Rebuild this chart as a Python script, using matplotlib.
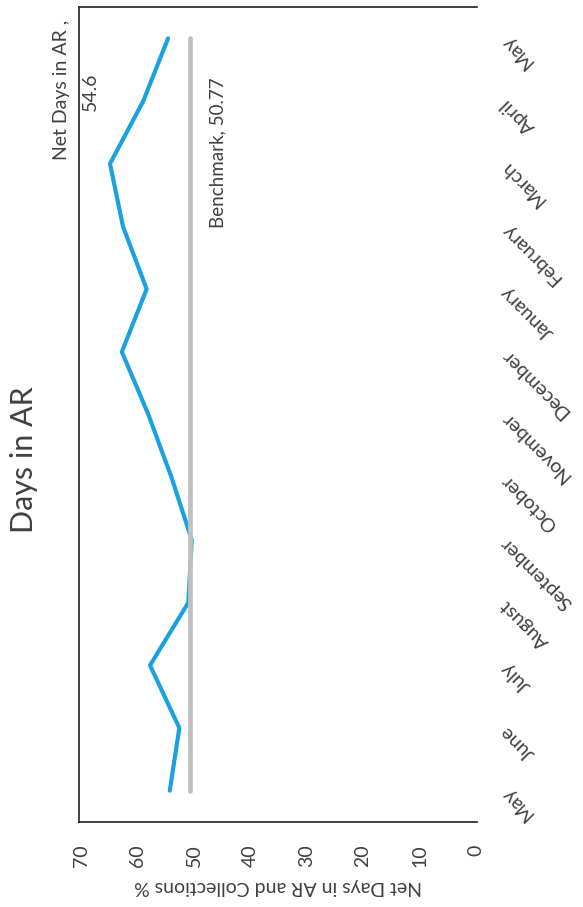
import matplotlib
matplotlib.use("Agg")
import matplotlib.pyplot as plt

plt.rcParams['font.family'] = ['Lato', 'DejaVu Sans']

months = ["May", "June", "July", "August", "September", "October", "November",
          "December", "January", "February", "March", "April", "May"]
net_days = [54.3, 52.6, 57.8, 51.0, 50.4, 54.0, 58.1, 62.8, 58.4, 62.6, 64.9, 59.0, 54.6]
benchmark = [50.77] * len(months)
value_ticks = [0, 10, 20, 30, 40, 50, 60, 70]

W, H = 583, 907
fig = plt.figure(figsize=(W / 100, H / 100), dpi=100)
ax = fig.add_axes([79 / W, 1 - 822 / H, (477 - 79) / W, (822 - 7) / H])

pos = list(range(len(months)))
ax.plot(net_days, pos, color='#1ba1e2', lw=3.0, solid_capstyle='round', zorder=2)
ax.plot(benchmark, pos, color='#c0c0c0', lw=3.4, solid_capstyle='round', zorder=3)

ax.set_xlim(70.4, -0.2)
ax.set_ylim(-0.5, len(months) - 0.5)

ax.set_xticks(value_ticks)
ax.set_xticklabels([str(v) for v in value_ticks], rotation=90, fontsize=14, color='#404040')
ax.tick_params(axis='x', length=0, pad=16)

ax.yaxis.tick_right()
ax.set_yticks(pos)
ax.set_yticklabels(months, rotation=135, ha='right', va='center',
                   rotation_mode='anchor', fontsize=14, color='#404040')
ax.tick_params(axis='y', length=0, pad=19)

ax.set_xlabel("Net Days in AR and Collections %", rotation=180, fontsize=14,
              color='#404040', labelpad=8)

for s in ['left', 'top', 'bottom']:
    ax.spines[s].set_linewidth(1.2)
    ax.spines[s].set_color('#202020')
ax.spines['right'].set_visible(False)

fig.text(24 / W, 1 - 460 / H, "Days in AR", rotation=90, ha='center', va='center',
         fontsize=22, color='#404040')

ax.text(45.7, 10.17, "Benchmark, %.2f" % benchmark[-1], rotation=90, ha='center',
        va='center', fontsize=13.5, color='#404040')
fig.text(61 / W, 1 - 90 / H, "Net Days in AR ,", rotation=90, ha='center', va='center',
         fontsize=14, color='#404040')
fig.text(90 / W, 1 - 92 / H, "%.1f" % net_days[-1], rotation=90, ha='center', va='center',
         fontsize=14, color='#404040')

fig.savefig("out.png", dpi=100)
